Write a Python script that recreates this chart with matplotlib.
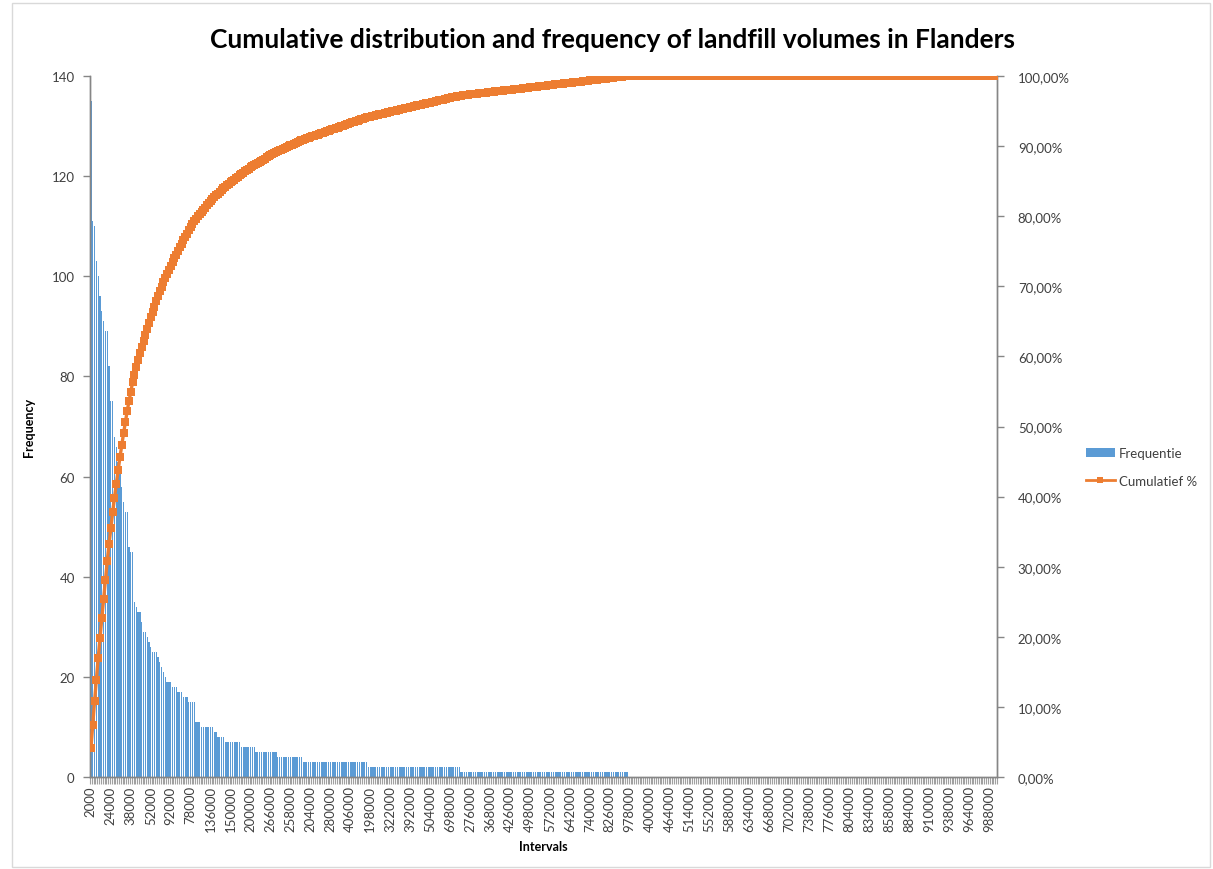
import matplotlib
matplotlib.use("Agg")
import matplotlib.pyplot as plt
import numpy as np
from matplotlib.ticker import FixedLocator, FuncFormatter, MultipleLocator
from matplotlib.lines import Line2D
from matplotlib.patches import Patch, Rectangle

plt.rcParams['font.family'] = ['Lato', 'DejaVu Sans']

# ---- data (bars sorted by descending frequency) ----
# (frequency, number of consecutive interval bins with that frequency)
freq_runs = [
    (135, 1), (111, 1), (110, 1), (103, 1), (100, 1), (96, 1), (93, 1), (91, 1),
    (89, 2), (82, 1), (75, 2), (68, 1), (66, 1), (63, 1), (61, 1), (58, 1),
    (55, 1), (53, 2), (46, 1), (45, 2), (35, 1), (34, 1), (33, 2), (31, 1),
    (29, 2), (28, 1), (27, 1), (26, 1), (25, 3), (24, 1), (23, 1), (22, 1),
    (21, 1), (20, 1), (19, 3), (18, 3), (17, 3), (16, 3), (15, 4), (11, 3),
    (10, 7), (9, 2), (8, 4), (7, 9), (6, 8), (5, 12), (4, 14), (3, 36),
    (2, 51), (1, 93), (0, 203),
]
frequencies = [v for v, n in freq_runs for _ in range(n)]

# interval labels shown on the axis (every 11th bin)
tick_labels = ["2000", "24000", "38000", "52000", "92000", "78000", "136000",
               "150000", "200000", "266000", "258000", "204000", "280000",
               "406000", "198000", "322000", "392000", "504000", "698000",
               "276000", "368000", "426000", "498000", "572000", "642000",
               "740000", "826000", "978000", "400000", "464000", "514000",
               "552000", "588000", "634000", "668000", "702000", "738000",
               "776000", "804000", "834000", "858000", "884000", "910000",
               "938000", "964000", "988000"]
label_step = 11

freq = np.array(frequencies, dtype=float)
n = len(freq)
cum_pct = np.cumsum(freq) / freq.sum()

BLUE = "#5B9BD5"
ORANGE = "#ED7D31"
GRAY = "#868686"
TXT = "#404040"

fig = plt.figure(figsize=(12.13, 8.70), dpi=100)
ax = fig.add_axes([90 / 1213, 1 - 778 / 870, (997 - 90) / 1213, (778 - 77) / 870])
ax2 = ax.twinx()

x = np.arange(n)
ax.bar(x, freq, width=0.7, color=BLUE, linewidth=0, zorder=2)
ax2.plot(x, cum_pct, color=ORANGE, lw=2.4, marker="s", markersize=6,
         markeredgewidth=0, zorder=3)

ax.set_xlim(-0.5, n - 0.5)
ax.set_ylim(0, 140)
ax2.set_ylim(0, 1.0)
ax.set_zorder(ax2.get_zorder() - 1)
ax.patch.set_visible(False)

# left axis
ax.yaxis.set_major_locator(MultipleLocator(20))
ax.tick_params(axis="y", which="major", length=5, color=GRAY, labelsize=9.5,
               labelcolor=TXT, pad=6, width=1)
# x axis
pos = list(range(0, n, label_step))[:len(tick_labels)]
ax.set_xticks(pos)
ax.set_xticklabels(tick_labels[:len(pos)], rotation=90, fontsize=9.5, color=TXT)
ax.tick_params(axis="x", which="major", length=0, pad=6)
ax.xaxis.set_minor_locator(FixedLocator(np.arange(-0.5, n, 1.0)))
ax.tick_params(axis="x", which="minor", length=5, color="#A0A0A0", width=0.8)

# right axis
ax2.yaxis.set_major_locator(MultipleLocator(0.1))
ax2.yaxis.set_major_formatter(FuncFormatter(lambda v, p: f"{v*100:.2f}%".replace(".", ",")))
ax2.tick_params(axis="y", which="major", length=5, color=GRAY, labelsize=9.5,
                labelcolor=TXT, pad=10, width=1)

for a in (ax, ax2):
    a.spines["top"].set_visible(False)
    for s in ("left", "right", "bottom"):
        a.spines[s].set_color(GRAY)
        a.spines[s].set_linewidth(1)

ax.set_ylabel("Frequency", fontsize=9, fontweight="bold", color="black", labelpad=12)
ax.set_xlabel("Intervals", fontsize=9, fontweight="bold", color="black", labelpad=6)

fig.text(612 / 1213, 1 - 40 / 870,
         "Cumulative distribution and frequency of landfill volumes in Flanders",
         ha="center", va="center", fontsize=19, fontweight="bold", color="black")

handles = [Patch(facecolor=BLUE, edgecolor="none"),
           Line2D([], [], color=ORANGE, lw=2, marker="s", markersize=5, markeredgewidth=0)]
fig.legend(handles, ["Frequentie", "Cumulatief %"], loc="center left",
           bbox_to_anchor=(1074 / 1213, 1 - 468 / 870), frameon=False, fontsize=9.5,
           handlelength=2.2, labelspacing=1.2, handletextpad=0.3,
           labelcolor=TXT)

fig.patches.append(Rectangle((12 / 1213, 2 / 870), (1210 - 12) / 1213, (866 - 2) / 870,
                             transform=fig.transFigure, fill=False,
                             edgecolor="#D9D9D9", lw=1))

fig.savefig("out.png", dpi=100)
